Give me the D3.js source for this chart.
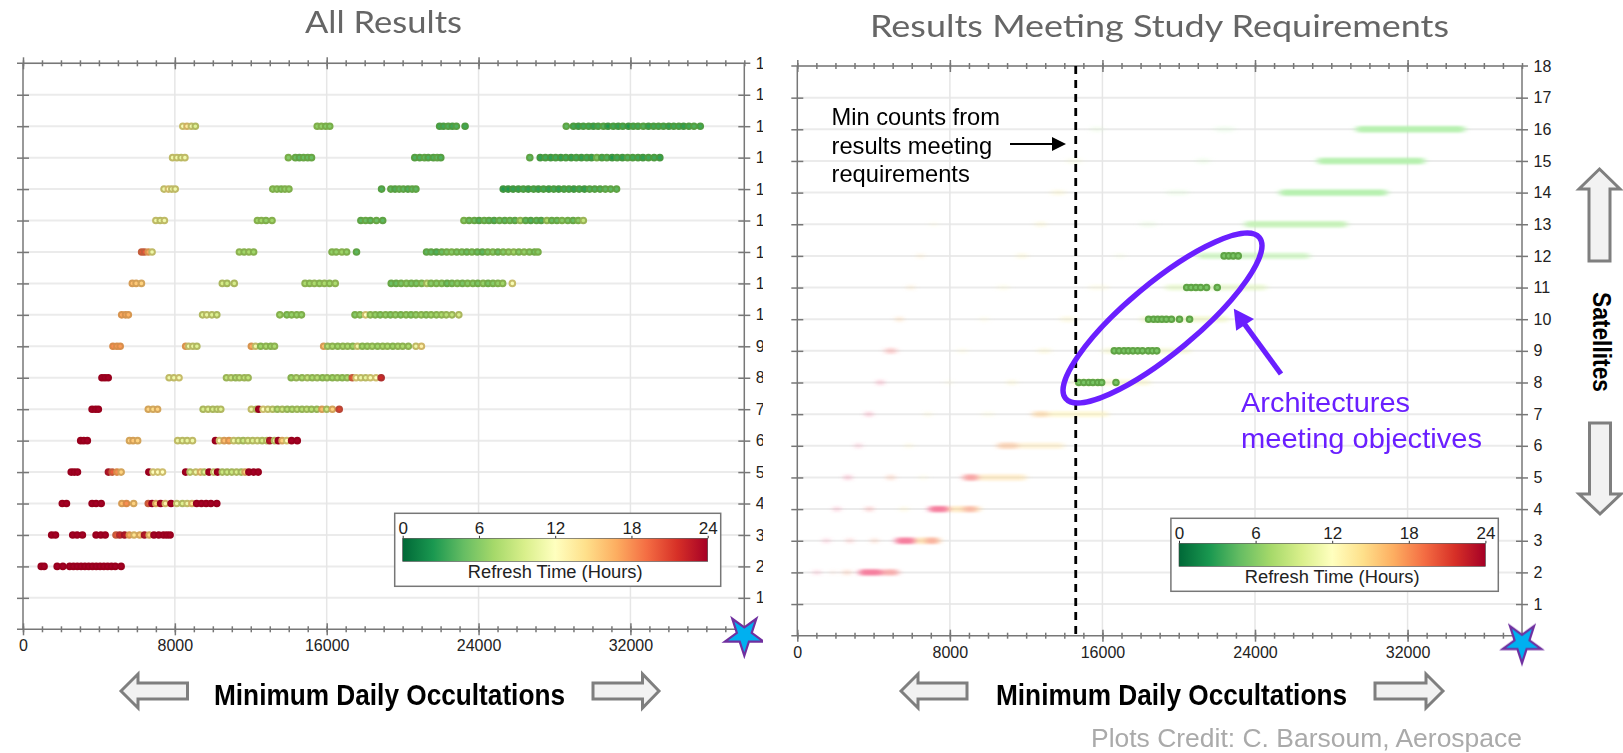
<!DOCTYPE html>
<html>
<head>
<meta charset="utf-8">
<style>
  html, body { margin: 0; padding: 0; background: #fff; }
  svg { display: block; }
  text { font-family: "Liberation Sans", Arial, sans-serif; }
  .axis path { display: none; }
  .axis line { stroke: #777; stroke-width: 1.5; }
  .axis text { fill: #222; font-size: 16px; font-family: "Liberation Sans", Arial, sans-serif; }
</style>
</head>
<body>
<div id="chart"></div>
<script src="https://cdn.jsdelivr.net/npm/d3@7"></script>
<script>
// All Results: [minimum daily occultations, refresh time in hours]
var sat16 = [[8420,11.5],[8640,13.5],[8870,11],[9080,10],[15500,6.5],[15720,6.5],[15950,6],[16160,6],[21950,3.5],[22150,3.5],[22400,4],[22620,3.5],[22830,4],[23290,3.5],[28620,4.5],[29000,3.5],[29260,3],[29520,3.5],[29800,3.5],[30050,3],[30300,3.5],[30580,4],[30820,2.5],[31100,3.5],[31360,3],[31600,3.5],[31900,2.5],[32150,3.5],[32400,3.5],[32680,4],[32950,3],[33220,3.5],[33480,3.5],[33740,3.5],[34020,3],[34280,3.5],[34550,3.5],[34800,3],[35080,3.5],[35350,4],[35680,3.5]];
var sat15 = [[7880,11],[8110,11],[8330,10.5],[8530,11],[13980,6],[14350,5],[14560,4.5],[14780,5],[15000,5],[15200,5],[20640,4],[20900,4],[21150,4.5],[21350,4],[21620,4],[21820,4.5],[22010,4],[26700,4.5],[27250,3],[27520,3.5],[27800,3],[28060,3.5],[28330,3],[28600,3.5],[28880,3],[29150,3.5],[29420,3],[29700,3.5],[29950,3],[30230,5.5],[30500,3.5],[30760,4],[31040,2.5],[31300,3.5],[31580,3],[31850,4],[32120,3.5],[32400,3.5],[32660,3],[32950,3.5],[33250,3.5],[33550,3]];
var sat14 = [[7430,11],[7660,12.5],[7840,11],[8020,11],[13160,6.5],[13380,6.5],[13600,6],[13800,6.5],[14010,6.5],[18890,4],[19380,4.5],[19600,4],[19820,4.5],[20040,4.5],[20280,4],[20500,4.5],[20700,4.5],[25300,2.5],[25560,2.5],[25820,3],[26100,3],[26360,3.5],[26620,3],[26900,3.5],[27150,3],[27420,3.5],[27700,3],[27960,3.5],[28220,3],[28500,3.5],[28760,3.5],[29020,3],[29300,3.5],[29580,3],[29850,4],[30120,4],[30400,4],[30680,4.5],[30960,4.5],[31270,4.5]];
var sat13 = [[7000,11],[7230,10.5],[7450,11],[12350,7],[12560,7],[12800,6.5],[13120,7],[17800,4.5],[18050,5],[18300,4.5],[18620,5],[18950,4.5],[23230,6],[23500,5],[23780,5],[24030,4],[24300,5],[24550,4.5],[24820,4],[25100,5],[25380,4.5],[25650,5],[25920,4.5],[26200,7.5],[26480,4.5],[26750,4],[27050,4.5],[27300,4],[27600,7.5],[27860,5],[28130,5],[28400,6],[28700,5.5],[28980,5],[29250,6],[29520,8.5]];
var sat12 = [[6250,20],[6400,20],[6600,17],[6800,11],[11400,7.5],[11650,7],[11900,7.5],[12150,7],[16280,6.5],[16500,6.5],[16800,7],[17050,6.5],[17570,4.5],[21260,4.5],[21500,4.5],[21780,4],[22060,5],[22320,5.5],[22580,6],[22850,5.5],[23120,5.5],[23380,5],[23650,5.5],[23930,5],[24200,4.5],[24480,5.5],[24750,6],[25020,5],[25300,6],[25580,6.5],[25850,7],[26120,6],[26400,6.5],[26680,6],[26950,5.5],[27130,6]];
var sat11 = [[5760,16],[5960,15.5],[6240,15],[10500,9.5],[10750,9],[11130,9.5],[14860,7.5],[15100,7],[15350,7.5],[15620,7],[15880,7.5],[16150,7],[16450,7.5],[19400,5],[19660,5],[19920,5.5],[20200,6],[20460,5.5],[20720,5.5],[21000,6],[21280,9],[21500,6],[21780,6],[22060,6],[22340,5],[22600,5.5],[22880,6],[23150,5.5],[23420,6],[23700,6],[23960,5.5],[24240,6.5],[24500,5.5],[24760,6],[25020,6.5],[25270,7],[25780,11.5]];
var sat10 = [[5200,17],[5400,17],[5550,16.5],[9460,10],[9680,10.5],[9950,10],[10210,9.5],[13530,7],[13900,6],[14150,6.5],[14420,6.5],[14670,6.5],[17490,6],[17750,6.5],[18050,12],[18300,7],[18560,6.5],[18820,6],[19100,6.5],[19360,6],[19620,6.5],[19900,6],[20180,6.5],[20440,6],[20700,6.5],[20980,7],[21240,6.5],[21500,7],[21780,7],[22050,7.5],[22300,8],[22600,8.5],[22960,9.5]];
var sat9 = [[4740,18],[4950,17.5],[5120,17.5],[8570,17],[8730,11],[8950,10.5],[9160,10],[12030,17],[12250,11],[12520,7],[12800,7.5],[13050,7],[13250,7.5],[15840,16],[16050,8],[16300,7.5],[16580,7],[16850,7.5],[17100,7.5],[17370,7],[17620,11],[17880,7],[18140,7],[18400,7.5],[18680,7],[18950,7.5],[19200,7.5],[19480,7],[19750,7.5],[20000,7.5],[20300,7.5],[20700,11],[20990,13]];
var sat8 = [[4160,24],[4320,24],[4490,24],[7700,11],[7950,11],[8220,11.5],[10720,8.5],[10960,9],[11200,8],[11400,8.5],[11660,8.5],[11860,8.5],[14130,7],[14400,8],[14700,7.5],[14980,8.5],[15240,7.5],[15500,8],[15780,7],[16020,7.5],[16300,7],[16560,7.5],[16820,7],[17080,7.5],[17350,20],[17550,12],[17800,11],[18050,10.5],[18300,11.5],[18600,12],[18870,22]];
var sat7 = [[3640,24],[3820,24],[3970,24],[6600,15],[6850,14.5],[7090,15],[9490,9.5],[9750,10],[10000,9.5],[10230,9.5],[10420,10],[12030,11],[12300,10],[12420,24],[12650,12],[12900,11],[13150,10],[13400,8],[13660,9],[13920,8],[14180,8],[14440,8.5],[14700,8],[14950,8.5],[15200,8],[15480,8],[15750,16],[16000,9],[16300,15],[16660,21]];
var sat6 = [[3040,24],[3200,24],[3390,24],[5610,15],[5800,15.5],[6040,15],[8150,11],[8400,10.5],[8650,10.5],[8930,11],[10140,24],[10350,12],[10600,16],[10850,17],[11100,11],[11350,10],[11600,9],[11850,10],[12100,10],[12350,10.5],[12600,9.5],[12850,10],[13000,23],[13250,10],[13450,24],[13650,15],[13900,12],[14150,24],[14450,24]];
var sat5 = [[2540,24],[2700,24],[2870,24],[4500,23],[4700,20],[4950,18],[5170,15],[6630,24],[6850,12],[7100,12],[7350,12],[8570,24],[8800,10],[9100,11],[9350,14],[9550,10],[9800,24],[10050,11],[10250,24],[10500,9],[10750,9],[11000,9],[11250,9.5],[11500,9],[11700,15],[11900,24],[12150,24],[12390,24]];
var sat4 = [[2070,24],[2290,24],[3640,24],[3850,24],[4120,24],[5210,16],[5450,18],[5830,15],[6600,20],[6800,24],[7000,15],[7250,24],[7500,13],[7800,24],[8100,11],[8400,10],[8650,11],[8900,14],[9150,24],[9400,24],[9650,24],[9900,24],[10210,24]];
var sat3 = [[1510,24],[1710,24],[2620,24],[2850,24],[3130,24],[3850,24],[4100,24],[4330,24],[4900,20],[5100,22],[5350,23],[5600,17],[5850,14],[6150,15],[6400,23],[6650,15],[6900,24],[7150,24],[7400,24],[7580,24],[7750,24]];
var sat2 = [[960,24],[1110,24],[1800,24],[2100,24],[2460,24],[2660,24],[2860,24],[3060,24],[3260,24],[3460,24],[3660,24],[3860,24],[4060,24],[4260,24],[4460,24],[4660,24],[4860,24],[5170,24]];

var satellites = [16, 15, 14, 13, 12, 11, 10, 9, 8, 7, 6, 5, 4, 3, 2];
var allRows = [sat16, sat15, sat14, sat13, sat12, sat11, sat10, sat9, sat8, sat7, sat6, sat5, sat4, sat3, sat2];

// Results Meeting Study Requirements: the designs that stay solid
var metSatellites = [12, 11, 10, 9, 8];
var met12 = [22380, 22620, 22860, 23120];
var met11 = [20420, 20650, 20900, 21150, 21460, 22020];
var met10 = [18420, 18680, 18900, 19120, 19350, 19620, 20040, 20570];
var met9 = [16620, 16870, 17130, 17360, 17600, 17850, 18100, 18400, 18620, 18850];
var met8 = [14760, 15020, 15280, 15500, 15760, 15960, 16710];
var metHours = 5.5;

// The same results faded out: how many designs sit in each stretch
var ghostSats = [16,16,16,15,15,15,14,14,14,13,13,13,13,12,12,12,12,11,11,11,11,10,10,10,10,9,9,9,9,8,8,8,8,7,7,7,7,7,6,6,6,6,5,5,5,5,5,4,4,4,4,4,4,3,3,3,3,3,3,2,2,2,2,2];
var ghostFrom = [29300,21900,15400,27270,20930,14100,25300,19380,13320,23470,17970,12480,7000,21000,16700,11490,6300,19300,15300,10500,5800,18000,13800,9600,5200,16000,12600,8400,4600,14400,11000,7800,4200,12340,13200,9700,6700,3600,10500,11600,5700,3100,8700,9500,6400,4700,2500,6900,7950,8700,5400,3600,1950,5150,6200,6700,3900,2600,1400,3240,4450,2400,1800,900];
var ghostTo = [35000,22900,16000,32900,21630,14900,30930,20500,14030,28820,18820,13040,7300,26850,17130,12060,6600,24600,16300,11100,6100,22600,14600,10000,5500,20600,13300,8900,5200,18500,11500,8100,4500,13200,16300,10300,7000,3900,11600,13970,6000,3300,9500,12000,6800,5100,2800,7950,9600,9400,5800,3950,2200,6200,7500,7400,4200,2900,1650,4450,5300,2800,1950,1150];
var ghostHours = [3,3,6,3,4,10,3,4,11,4,5,11,12,4,8,11,15,7,11,11,16,9,11,12,18,10,11,12,22,11,11,12,24,17,12,11,11,24,19,14,12,24,22,15,11,20,24,24,15,22,12,22,24,24,15,22,20,22,24,24,22,20,20,24];
var ghostCount = [10,1,1,10,1,1,10,1,2,8,1,2,1,6,1,2,2,4,1,1,2,4,2,1,3,3,2,1,4,3,2,1,4,5,4,1,2,4,5,3,2,4,8,4,1,3,4,10,5,5,2,4,4,10,6,6,3,3,3,10,7,3,2,3];

// Markers on the right plot and the goal star
var minCount = 14600;
var starOccultations = 38000;
var starSatellites = 0;

// Shared axis values
var xMajor = [0, 8000, 16000, 24000, 32000];
var xMinor = d3.range(0, 38001, 1000);
var yTicks = d3.range(1, 19);
var legendTicks = [0, 6, 12, 18, 24];

var chartWidth = 1623;
var chartHeight = 753;
var purple = '#6a1fff';

var svg = d3.select('#chart')
    .append('svg')
    .attr('width', chartWidth)
    .attr('height', chartHeight)
    .style('background-color', '#fff');

var defs = svg.append('defs');
defs.append('filter').attr('id', 'soft')
    .append('feGaussianBlur').attr('stdDeviation', 0.4);
defs.append('filter').attr('id', 'ghostBlur')
    .attr('x', '-30%').attr('width', '160%').attr('y', '-150%').attr('height', '400%')
    .append('feGaussianBlur').attr('stdDeviation', '3 1');
defs.append('clipPath').attr('id', 'leftClip')
    .append('rect').attr('width', 763).attr('height', chartHeight);

// Colors
var refreshColor = d3.scaleLinear()
    .domain(d3.range(11).map(function(i) { return i * 2.4; }))
    .range(d3.schemeRdYlGn[11].slice().reverse());
var ringColor = d3.scaleLinear()
    .domain([0, 3, 6, 12, 18, 24])
    .range(['#2a8a3c', '#459840', '#78ad48', '#cdbd6c', '#d98a48', '#98001f']);
var ghostColor = d3.scaleLinear()
    .domain([0, 6, 12, 18, 24])
    .range(['#9ceeb2', '#ccf2a8', '#fff0a0', '#fbc07c', '#f6789a']);
var ghostOpacity = d3.scaleLinear().domain([0, 10]).range([0.06, 0.95]);

var lineFn = d3.line();

function arrowShape(pts) {
  svg.append('path')
      .attr('d', lineFn(pts) + 'Z')
      .attr('fill', '#f2f2f2')
      .attr('stroke', '#7f7f7f')
      .attr('stroke-width', 3);
}

// Frame, grid and axes of one plot
function drawFrame(g, scaleX, scaleY) {
  var x0 = scaleX.range()[0], x1 = scaleX.range()[1];
  var top = scaleY.range()[1], bottom = scaleY.range()[0];

  g.append('g').selectAll('line')
      .data(yTicks)
      .enter()
      .append('line')
      .attr('x1', x0)
      .attr('x2', x1)
      .attr('y1', scaleY)
      .attr('y2', scaleY)
      .attr('stroke', '#ebebeb')
      .attr('stroke-width', 2);
  g.append('g').selectAll('line')
      .data(xMajor.slice(1))
      .enter()
      .append('line')
      .attr('x1', scaleX)
      .attr('x2', scaleX)
      .attr('y1', top)
      .attr('y2', bottom)
      .attr('stroke', '#e6e6e6')
      .attr('stroke-width', 1.5);

  [[top, d3.axisTop, false], [bottom, d3.axisBottom, true]].forEach(function(s) {
    var minor = g.append('g').attr('class', 'axis')
        .attr('transform', 'translate(0,' + s[0] + ')')
        .call(s[1](scaleX).tickValues(xMinor).tickFormat(''));
    minor.selectAll('line').attr('y1', -3).attr('y2', 3);
    var major = g.append('g').attr('class', 'axis')
        .attr('transform', 'translate(0,' + s[0] + ')')
        .call(s[1](scaleX).tickValues(xMajor).tickFormat(s[2] ? d3.format('d') : ''));
    major.selectAll('line').attr('y1', -6).attr('y2', 6);
    major.selectAll('text').attr('y', 7).attr('dy', '0.95em');
    g.append('line')
        .attr('x1', x0 - 6).attr('x2', x1 + 6)
        .attr('y1', s[0]).attr('y2', s[0])
        .attr('stroke', '#777').attr('stroke-width', 1.5);
  });

  var leftAxis = g.append('g').attr('class', 'axis')
      .attr('transform', 'translate(' + x0 + ',0)')
      .call(d3.axisLeft(scaleY).tickValues(yTicks.slice(0, -1)).tickFormat(''));
  leftAxis.selectAll('line').attr('x1', -6).attr('x2', 6);
  var rightAxis = g.append('g').attr('class', 'axis')
      .attr('transform', 'translate(' + x1 + ',0)')
      .call(d3.axisRight(scaleY).tickValues(yTicks).tickFormat(d3.format('d')));
  rightAxis.selectAll('line').attr('x1', -6).attr('x2', 6);
  rightAxis.selectAll('text').attr('x', 11.5);
  rightAxis.selectAll('.tick').filter(function(d) { return d === 18; })
      .select('line').remove();

  g.append('line')
      .attr('x1', x0).attr('x2', x0)
      .attr('y1', top).attr('y2', bottom)
      .attr('stroke', '#777').attr('stroke-width', 1.5);
  g.append('line')
      .attr('x1', x1).attr('x2', x1)
      .attr('y1', top).attr('y2', bottom)
      .attr('stroke', '#777').attr('stroke-width', 1.5);
}

function drawLegend(g, left, right, boxLeft, boxRight, boxTop) {
  var scale = d3.scaleLinear().domain([0, 24]).range([left, right]);
  var id = 'refreshGradient' + Math.round(left);
  defs.append('linearGradient').attr('id', id)
      .selectAll('stop')
      .data(refreshColor.domain())
      .enter()
      .append('stop')
      .attr('offset', function(d) { return d / 24; })
      .attr('stop-color', refreshColor);

  g.append('rect')
      .attr('x', boxLeft)
      .attr('y', boxTop)
      .attr('width', boxRight - boxLeft)
      .attr('height', 73)
      .attr('fill', '#fff')
      .attr('stroke', '#777')
      .attr('stroke-width', 1.5);
  g.append('rect')
      .attr('x', left)
      .attr('y', boxTop + 25)
      .attr('width', right - left)
      .attr('height', 23)
      .attr('fill', 'url(#' + id + ')')
      .attr('stroke', '#444')
      .attr('stroke-width', 0.6);
  var axis = g.append('g').attr('class', 'axis')
      .attr('transform', 'translate(0,' + (boxTop + 25) + ')')
      .call(d3.axisTop(scale).tickValues(legendTicks).tickSize(2.5).tickPadding(2));
  axis.selectAll('line').style('stroke', '#333').style('stroke-width', 1);
  axis.selectAll('text').style('font-size', '17px');
  g.append('text')
      .attr('x', (left + right) / 2)
      .attr('y', boxTop + 64.5)
      .attr('text-anchor', 'middle')
      .attr('font-size', 18.3)
      .attr('fill', '#222')
      .text('Refresh Time (Hours)');
}

function drawStar(g, scaleX, scaleY, dy) {
  g.append('path')
      .attr('d', d3.symbol().type(d3.symbolStar).size(470)())
      .attr('transform', 'translate(' + scaleX(starOccultations) + ',' +
          (scaleY(starSatellites) + dy) + ') rotate(180)')
      .attr('fill', '#00b0f0')
      .attr('stroke', '#7030a0')
      .attr('stroke-width', 2.2);
}

function xLabel(x, width) {
  svg.append('text')
      .attr('x', x)
      .attr('y', 705)
      .attr('font-size', 30)
      .attr('font-weight', 'bold')
      .attr('fill', '#000')
      .attr('textLength', width)
      .attr('lengthAdjust', 'spacingAndGlyphs')
      .text('Minimum Daily Occultations');
}

function title(x, y, width, label) {
  svg.append('text')
      .attr('x', x)
      .attr('y', y)
      .attr('font-size', 31)
      .attr('fill', '#666')
      .attr('textLength', width)
      .attr('lengthAdjust', 'spacingAndGlyphs')
      .style('font-family', 'Lato, "Open Sans", sans-serif')
      .text(label);
}

// ---- Left plot ----
var leftX = d3.scaleLinear().domain([0, 38000]).range([23, 744.3]);
var leftY = d3.scaleLinear().domain([0, 18]).range([629.3, 63.3]);
var leftG = svg.append('g').attr('clip-path', 'url(#leftClip)');

drawFrame(leftG, leftX, leftY);

var dotsG = leftG.append('g').attr('filter', 'url(#soft)');
allRows.forEach(function(row, i) {
  dotsG.append('g').selectAll('circle')
      .data(row)
      .enter()
      .append('circle')
      .attr('cx', function(d) { return leftX(d[0]); })
      .attr('cy', leftY(satellites[i]))
      .attr('r', 2.8)
      .attr('fill', function(d) { return refreshColor(d[1]); })
      .attr('stroke', function(d) { return ringColor(d[1]); })
      .attr('stroke-width', 2);
});

drawLegend(leftG, 402.7, 707.7, 394.7, 720.7, 513.3);
drawStar(leftG, leftX, leftY, 6);

// ---- Right plot ----
var rightX = d3.scaleLinear().domain([0, 38000]).range([797.3, 1522]);
var rightY = d3.scaleLinear().domain([0, 18]).range([635.7, 66]);
var rightG = svg.append('g');

drawFrame(rightG, rightX, rightY);

rightG.append('g').attr('filter', 'url(#ghostBlur)').selectAll('rect')
    .data(ghostSats)
    .enter()
    .append('rect')
    .attr('x', function(d, i) { return rightX(ghostFrom[i]); })
    .attr('y', function(d) { return rightY(d) - 3.2; })
    .attr('width', function(d, i) { return rightX(ghostTo[i]) - rightX(ghostFrom[i]); })
    .attr('height', 6.4)
    .attr('rx', 3.2)
    .attr('fill', function(d, i) { return ghostColor(ghostHours[i]); })
    .attr('opacity', function(d, i) { return ghostOpacity(ghostCount[i]); });

var metG = rightG.append('g').attr('filter', 'url(#soft)');
[met12, met11, met10, met9, met8].forEach(function(row, i) {
  metG.append('g').selectAll('circle')
      .data(row)
      .enter()
      .append('circle')
      .attr('cx', function(d) { return rightX(d); })
      .attr('cy', rightY(metSatellites[i]))
      .attr('r', 2.8)
      .attr('fill', refreshColor(metHours))
      .attr('stroke', ringColor(metHours - 1))
      .attr('stroke-width', 2);
});

// Min count line
rightG.append('line')
    .attr('x1', rightX(minCount))
    .attr('x2', rightX(minCount))
    .attr('y1', rightY(18))
    .attr('y2', rightY(0))
    .attr('stroke', '#000')
    .attr('stroke-width', 2.8)
    .attr('stroke-dasharray', '8,6');

drawLegend(rightG, 1179, 1485.4, 1170.9, 1498.3, 518.3);
drawStar(rightG, rightX, rightY, 7);

// ---- Annotations ----
['Min counts from', 'results meeting', 'requirements'].forEach(function(t, i) {
  svg.append('text')
      .attr('x', 831.5)
      .attr('y', 125 + i * 28.7)
      .attr('font-size', 23.7)
      .attr('fill', '#000')
      .text(t);
});
svg.append('line')
    .attr('x1', 1010).attr('x2', 1056)
    .attr('y1', 144).attr('y2', 144)
    .attr('stroke', '#000').attr('stroke-width', 2);
svg.append('path')
    .attr('d', lineFn([[1066, 144], [1052, 137], [1052, 151]]) + 'Z')
    .attr('fill', '#000');

// Ellipse around the designs meeting objectives
svg.append('ellipse')
    .attr('cx', 0).attr('cy', 0)
    .attr('rx', 126).attr('ry', 35)
    .attr('transform', 'translate(1162.5,318) rotate(-39.75)')
    .attr('fill', 'none')
    .attr('stroke', purple)
    .attr('stroke-width', 5.3);
svg.append('line')
    .attr('x1', 1281).attr('y1', 374)
    .attr('x2', 1243).attr('y2', 322)
    .attr('stroke', purple)
    .attr('stroke-width', 5.3);
svg.append('path')
    .attr('d', lineFn([[1235, 310.5], [1252, 319], [1237, 329]]) + 'Z')
    .attr('fill', purple)
    .attr('stroke', purple)
    .attr('stroke-width', 2);
['Architectures', 'meeting objectives'].forEach(function(t, i) {
  svg.append('text')
      .attr('x', 1241)
      .attr('y', 412 + i * 36)
      .attr('font-size', 28)
      .attr('fill', purple)
      .attr('textLength', i === 0 ? 169 : 241)
      .attr('lengthAdjust', 'spacingAndGlyphs')
      .text(t);
});

// Titles and axis names
title(305, 33, 157, 'All Results');
title(870, 37, 579, 'Results Meeting Study Requirements');
xLabel(214, 351);
xLabel(996, 351);

svg.append('text')
    .attr('transform', 'translate(1593,292) rotate(90)')
    .attr('font-size', 26)
    .attr('font-weight', 'bold')
    .attr('fill', '#000')
    .attr('textLength', 100)
    .attr('lengthAdjust', 'spacingAndGlyphs')
    .text('Satellites');

svg.append('text')
    .attr('x', 1091)
    .attr('y', 747)
    .attr('font-size', 25)
    .attr('fill', '#aaa')
    .attr('textLength', 431)
    .attr('lengthAdjust', 'spacingAndGlyphs')
    .text('Plots Credit: C. Barsoum, Aerospace');

// Block arrows
arrowShape([[121, 691], [138, 674], [138, 683], [187.5, 683], [187.5, 699], [138, 699], [138, 708]]);
arrowShape([[659, 691], [642.5, 674], [642.5, 683], [593, 683], [593, 699], [642.5, 699], [642.5, 708]]);
arrowShape([[901, 691], [918, 674], [918, 683], [967, 683], [967, 699], [918, 699], [918, 708]]);
arrowShape([[1443, 691], [1426, 674], [1426, 683], [1375, 683], [1375, 699], [1426, 699], [1426, 708]]);
arrowShape([[1599.5, 169], [1620, 189], [1610, 189], [1610, 261], [1589, 261], [1589, 189], [1579, 189]]);
arrowShape([[1600, 514], [1621, 494], [1610.5, 494], [1610.5, 423], [1589.5, 423], [1589.5, 494], [1579, 494]]);
</script>
</body>
</html>
